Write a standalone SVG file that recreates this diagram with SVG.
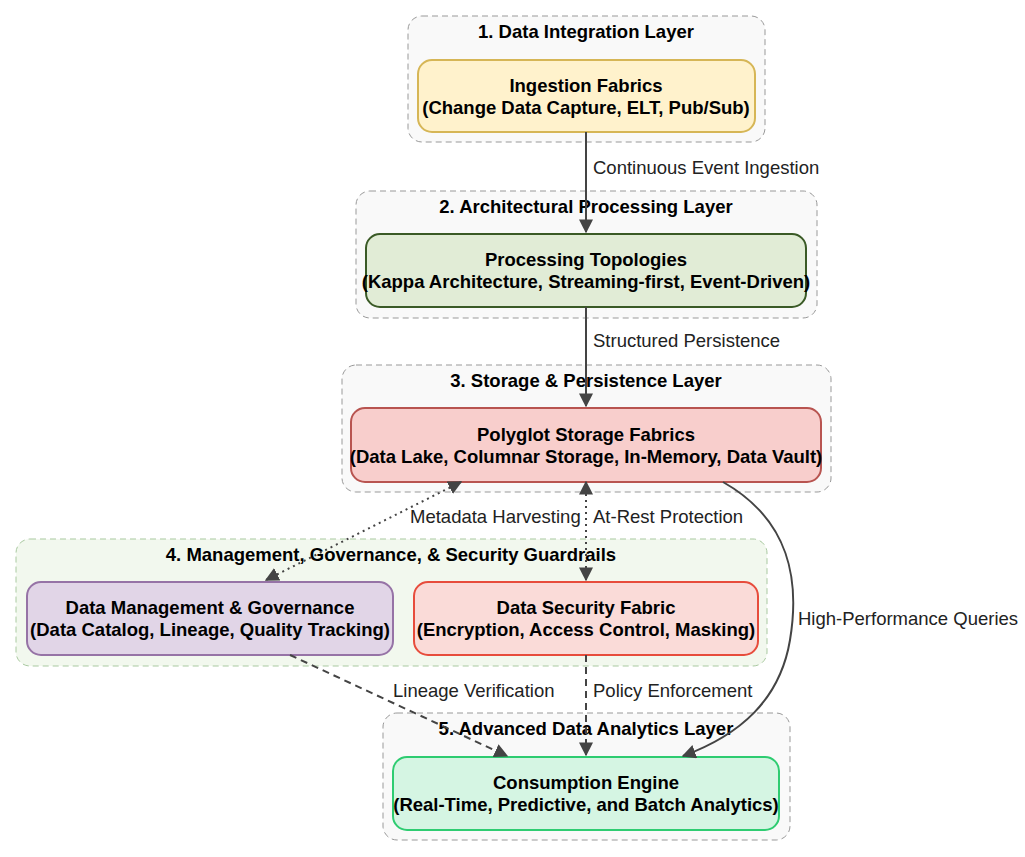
<svg xmlns="http://www.w3.org/2000/svg" width="1025" height="857" viewBox="0 0 1025 857">
<style>
text{font-family:"Liberation Sans",Arial,sans-serif;fill:#000}
.cl{fill:#f9f9f9;stroke:#999;stroke-dasharray:6 4;stroke-width:1}
.ct{font-size:18.5px;font-weight:bold;text-anchor:middle}
.nt{font-size:18.5px;font-weight:bold;text-anchor:middle}
.el{font-size:18.5px;fill:#222}
.e{fill:none;stroke:#444;stroke-width:2}
</style>
<defs>
<marker id="a" viewBox="0 0 10 10" refX="9" refY="5" markerWidth="7" markerHeight="7" orient="auto-start-reverse"><path d="M0,0L10,5L0,10z" fill="#444"/></marker>
</defs>
<g id="cluster1"><rect class="cl" x="408" y="16" width="357" height="126" rx="14"/><text class="ct" x="586" y="38">1. Data Integration Layer</text></g>
<g id="cluster2"><rect class="cl" x="356" y="191" width="461" height="127" rx="14"/><text class="ct" x="586" y="213">2. Architectural Processing Layer</text></g>
<g id="cluster3"><rect class="cl" x="342" y="365" width="489" height="127" rx="14"/><text class="ct" x="586" y="387">3. Storage &amp; Persistence Layer</text></g>
<g id="cluster4"><rect class="cl" style="fill:#f2f8ee;stroke:#a9c9a0" x="16" y="539" width="751" height="127" rx="14"/><text class="ct" x="391" y="561">4. Management, Governance, &amp; Security Guardrails</text></g>
<g id="cluster5"><rect class="cl" x="383" y="713" width="407" height="127" rx="14"/><text class="ct" x="586" y="735">5. Advanced Data Analytics Layer</text></g>

<g id="n1"><rect x="418" y="60" width="337" height="72" rx="14" fill="#fff2cc" stroke="#d6b656" stroke-width="2"/><text class="nt" x="586" y="92">Ingestion Fabrics</text><text class="nt" x="586" y="114">(Change Data Capture, ELT, Pub/Sub)</text></g>
<g id="n2"><rect x="366" y="234" width="440" height="73" rx="14" fill="#e1ecd6" stroke="#3a5a26" stroke-width="2"/><text class="nt" x="586" y="266">Processing Topologies</text><text class="nt" x="586" y="288">(Kappa Architecture, Streaming-first, Event-Driven)</text></g>
<g id="n3"><rect x="351" y="408" width="470" height="74" rx="14" fill="#f8cecc" stroke="#b85450" stroke-width="2"/><text class="nt" x="586" y="441">Polyglot Storage Fabrics</text><text class="nt" x="586" y="463">(Data Lake, Columnar Storage, In-Memory, Data Vault)</text></g>
<g id="n4"><rect x="27" y="582" width="366" height="73" rx="14" fill="#e1d5e7" stroke="#9673a6" stroke-width="2"/><text class="nt" x="210" y="614">Data Management &amp; Governance</text><text class="nt" x="210" y="636">(Data Catalog, Lineage, Quality Tracking)</text></g>
<g id="n5"><rect x="414" y="582" width="344" height="73" rx="14" fill="#fadbd8" stroke="#e74c3c" stroke-width="2"/><text class="nt" x="586" y="614">Data Security Fabric</text><text class="nt" x="586" y="636">(Encryption, Access Control, Masking)</text></g>
<g id="n6"><rect x="393" y="757" width="386" height="73" rx="14" fill="#d5f5e3" stroke="#2ecc71" stroke-width="2"/><text class="nt" x="586" y="789">Consumption Engine</text><text class="nt" x="586" y="811">(Real-Time, Predictive, and Batch Analytics)</text></g>

<g id="edges">
<path class="e" d="M586,132V232" marker-end="url(#a)"/>
<path class="e" d="M586,307V406" marker-end="url(#a)"/>
<path class="e" d="M461,482L266,580" stroke-dasharray="2 4" marker-start="url(#a)" marker-end="url(#a)"/>
<path class="e" d="M586,482V580" stroke-dasharray="2 4" marker-start="url(#a)" marker-end="url(#a)"/>
<path class="e" d="M723,482C790,520 800,580 790,640C780,700 740,735 683,756" marker-end="url(#a)"/>
<path class="e" d="M290,655L507,756" stroke-dasharray="7 5" marker-end="url(#a)"/>
<path class="e" d="M586,655V755" stroke-dasharray="7 5" marker-end="url(#a)"/>
<text class="el" x="593" y="174">Continuous Event Ingestion</text>
<text class="el" x="593" y="347">Structured Persistence</text>
<text class="el" x="410" y="523">Metadata Harvesting</text>
<text class="el" x="593" y="523">At-Rest Protection</text>
<text class="el" x="798" y="625">High-Performance Queries</text>
<text class="el" x="393" y="697">Lineage Verification</text>
<text class="el" x="593" y="697">Policy Enforcement</text>
</g>
</svg>
